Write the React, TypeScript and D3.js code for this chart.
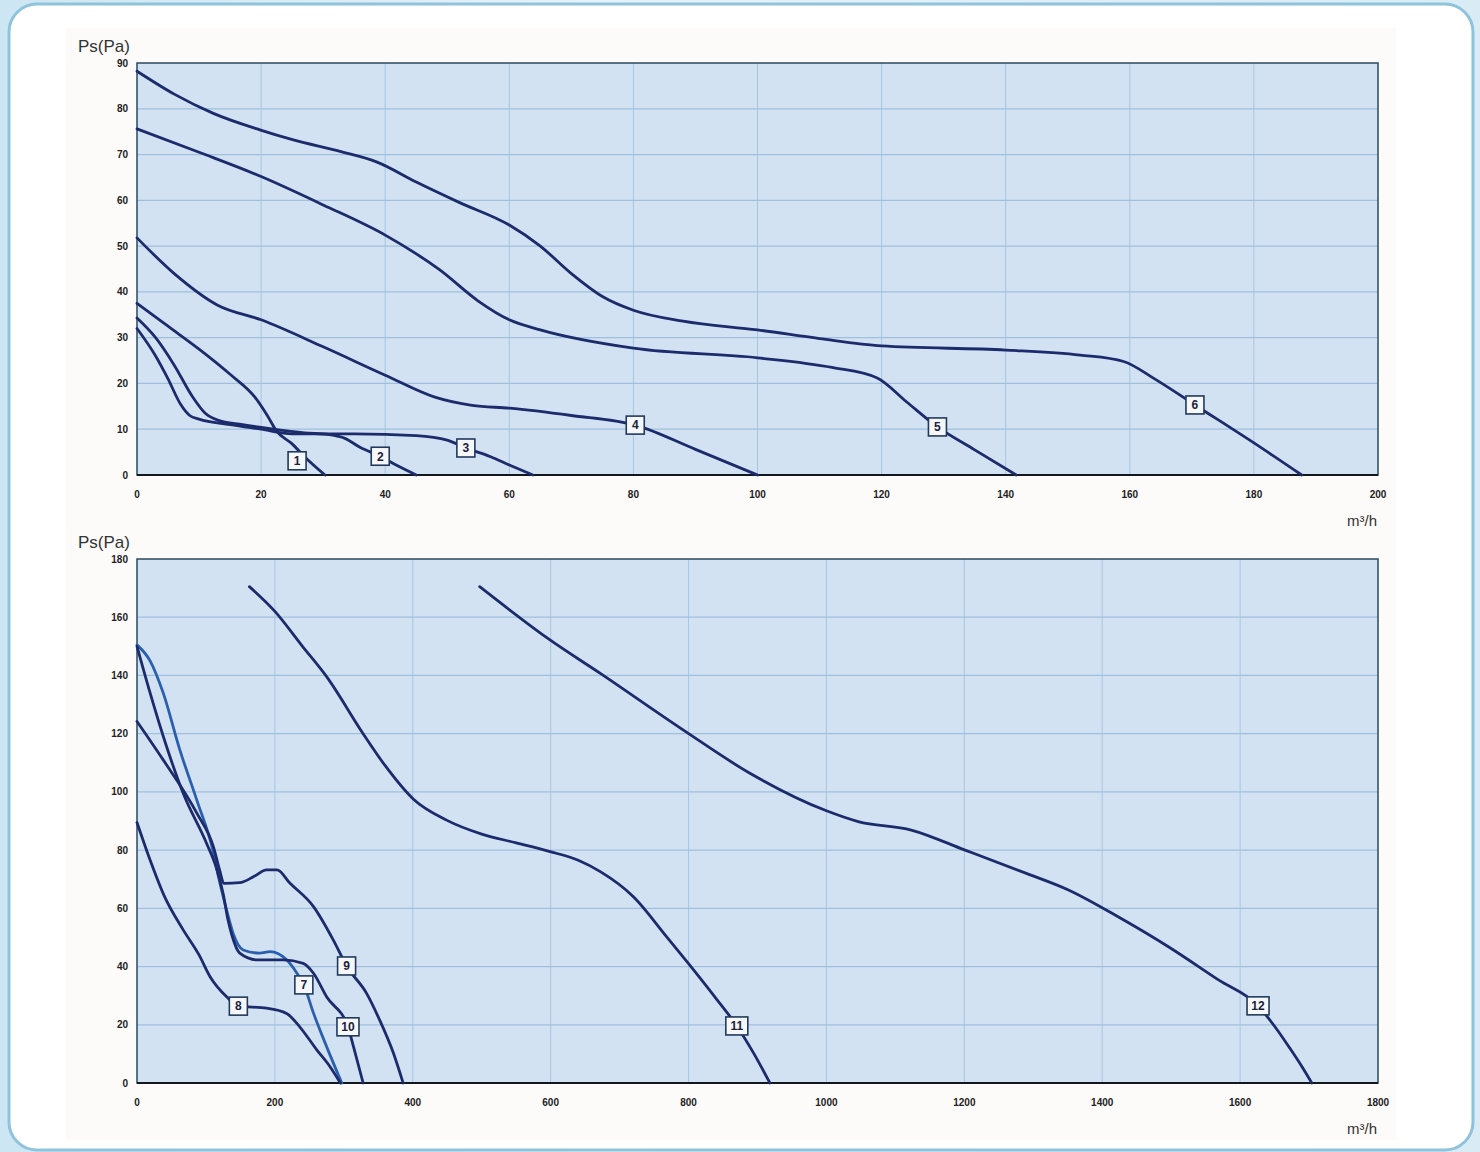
import React from 'react';
import * as d3 from 'd3';

type Pt = [number, number];

// upper panel: airflow (m³/h) vs static pressure (Pa)
const fan1: Pt[] = [[0, 37.5], [5, 32.5], [10, 27.5], [15, 22], [19, 17], [21, 13], [22.5, 9.6], [25, 6.8], [27, 4], [30.3, 0]];
const fan2: Pt[] = [[0, 34.3], [3, 30], [6, 24], [9, 17], [11, 13.5], [13, 12], [17, 11], [22, 10], [27, 9.2], [31, 8.8], [33.5, 8], [36, 6], [39.2, 4.1], [42, 2], [45, 0]];
const fan3: Pt[] = [[0, 32], [3, 26], [5, 21], [7, 15.5], [8.5, 13], [10, 12.2], [15, 11], [20, 10], [25, 9], [35, 9], [45, 8.6], [50, 7.6], [53, 5.9], [57, 4], [60, 2.2], [63.8, 0]];
const fan4: Pt[] = [[0, 51.8], [6, 44], [13, 37.1], [20, 33.9], [30, 28], [40, 21.8], [48, 17], [54, 15.2], [60, 14.6], [70, 13], [80.3, 10.9], [90, 5.6], [100, 0]];
const fan5: Pt[] = [[0, 75.6], [10, 70.5], [20, 65.2], [30, 59], [40, 52.4], [48.8, 44.8], [55, 38], [60, 33.9], [65, 31.7], [80, 27.7], [100, 25.6], [112, 23.5], [119.3, 21.2], [124, 16], [129, 10.5], [135, 5.5], [141.7, 0]];
const fan6: Pt[] = [[0, 88.2], [6, 83.2], [12.3, 79], [19.8, 75.4], [25.2, 73.2], [33, 70.6], [38.6, 68.4], [45, 64], [52, 59.5], [60, 54.6], [65, 50], [70, 44], [75, 39], [80, 36], [88, 33.6], [100, 31.7], [110, 29.8], [120, 28.2], [140, 27.3], [152, 26.2], [159, 24.8], [164, 21], [170.5, 15.3], [180, 7], [187.7, 0]];

// lower panel
const fan7: Pt[] = [[0, 150.5], [19, 145], [38, 134], [62, 114.5], [87, 97], [111, 79], [118, 71], [130, 59.4], [140, 51], [154, 45.7], [178, 44.6], [193, 45.1], [217, 42.3], [232, 37.7], [242, 33.7], [256, 24], [275, 12.5], [297, 0]];
const fan8: Pt[] = [[0, 89.5], [19, 76.6], [40, 64], [67, 52.6], [90, 44], [106, 36.5], [130, 29.6], [147, 26.4], [188, 25.7], [217, 23.9], [236, 19.3], [261, 11.3], [280, 5.6], [295, 0]];
const fan9: Pt[] = [[0, 124.2], [38, 111], [87, 92.6], [111, 81], [120, 73], [126, 68.6], [149, 68.8], [170, 71], [188, 73.2], [203, 73.2], [222, 68.6], [256, 60.6], [285, 49], [304, 40.2], [333, 30.8], [352, 21.6], [372, 10.2], [386, 0]];
const fan10: Pt[] = [[0, 150], [19, 134], [43, 115.5], [67, 99.5], [101, 82.3], [115, 74], [125, 65], [132, 56], [138, 50.5], [149, 44.6], [174, 42.3], [212, 42.3], [241, 41.1], [256, 37.7], [275, 29.6], [306, 19.3], [314, 12.5], [328, 0]];
const fan11: Pt[] = [[163, 170.5], [200, 162], [240, 150], [275, 139.6], [328, 120], [360, 109], [401, 97.5], [449, 90.3], [500, 85.5], [550, 82.5], [599, 79.5], [640, 76.5], [672, 72.6], [720, 64], [768, 50.3], [800, 41], [840, 29], [870, 19.6], [895, 10], [918, 0]];
const fan12: Pt[] = [[497, 170.5], [599, 152.2], [672, 140.7], [792, 121.3], [889, 106.4], [1000, 93.5], [1046, 89.8], [1123, 86.9], [1201, 80], [1290, 72], [1351, 66.3], [1423, 57.1], [1496, 46.8], [1568, 35.5], [1626, 26.5], [1650, 19.5], [1672, 12], [1690, 5.5], [1704, 0]];

// label box positions (x, y)
const topLabels: Pt[] = [[25.8, 3.1], [39.2, 4.1], [53, 5.9], [80.3, 10.9], [129, 10.5], [170.5, 15.3]];
const bottomLabels: Pt[] = [[242, 33.7], [147, 26.4], [304, 40.2], [306, 19.3], [870, 19.6], [1626, 26.5]];

const topXTicks = [0, 20, 40, 60, 80, 100, 120, 140, 160, 180, 200];
const topYTicks = [0, 10, 20, 30, 40, 50, 60, 70, 80, 90];
const bottomXTicks = [0, 200, 400, 600, 800, 1000, 1200, 1400, 1600, 1800];
const bottomYTicks = [0, 20, 40, 60, 80, 100, 120, 140, 160, 180];

const NAVY = '#1b2b6b';
const BLUE = '#2a5fae';
const FONT = '"Liberation Sans", Arial, sans-serif';

interface Curve {
  id: string;
  pts: Pt[];
  at: Pt;
  color: string;
}

const topCurves: Curve[] = [fan1, fan2, fan3, fan4, fan5, fan6].map((pts, i) => ({
  id: String(i + 1), pts, at: topLabels[i], color: NAVY,
}));
const bottomCurves: Curve[] = [fan7, fan8, fan9, fan10, fan11, fan12].map((pts, i) => ({
  id: String(i + 7), pts, at: bottomLabels[i], color: i === 0 ? BLUE : NAVY,
}));

function Panel({ top, bottom, xTicks, yTicks, curves }: {
  top: number; bottom: number; xTicks: number[]; yTicks: number[]; curves: Curve[];
}) {
  const left = 137, right = 1378;
  const x = d3.scaleLinear().domain([0, xTicks[xTicks.length - 1]]).range([left, right]);
  const y = d3.scaleLinear().domain([0, yTicks[yTicks.length - 1]]).range([bottom, top]);
  const line = d3.line<Pt>().x(d => x(d[0])).y(d => y(d[1])).curve(d3.curveMonotoneX);

  return (
    <g>
      <rect x={left} y={top} width={right - left} height={bottom - top} fill="#d3e2f3" />
      {xTicks.slice(1, -1).map(t => (
        <line key={'gx' + t} x1={x(t)} x2={x(t)} y1={top} y2={bottom} stroke="#a6c6e3" strokeWidth={1} />
      ))}
      {yTicks.slice(1, -1).map(t => (
        <line key={'gy' + t} x1={left} x2={right} y1={y(t)} y2={y(t)} stroke="#9fbfdc" strokeWidth={1.3} />
      ))}
      <rect x={left} y={top} width={right - left} height={bottom - top} fill="none" stroke="#2a4a5e" strokeWidth={1.5} />
      <line x1={left} x2={right} y1={bottom} y2={bottom} stroke="#121820" strokeWidth={2} />

      {curves.map(c => (
        <path key={'c' + c.id} d={line(c.pts) || ''} fill="none" stroke={c.color}
          strokeWidth={2.8} strokeLinejoin="round" strokeLinecap="round" />
      ))}
      {curves.map(c => {
        const w = c.id.length > 1 ? 22 : 18;
        return (
          <g key={'l' + c.id} transform={`translate(${x(c.at[0])},${y(c.at[1])})`}>
            <rect x={-w / 2} y={-9} width={w} height={18} fill="#f5f7fb" stroke="#213a5c" strokeWidth={1.6} />
            <text textAnchor="middle" dy="0.36em" fontSize={12} fontWeight="bold" fill="#1a2238" fontFamily={FONT}>{c.id}</text>
          </g>
        );
      })}

      {xTicks.map(t => (
        <text key={'tx' + t} x={x(t)} y={bottom + 23} textAnchor="middle" fontSize={10} fontWeight="bold"
          fill="#222" fontFamily={FONT}>{t}</text>
      ))}
      {yTicks.map(t => (
        <text key={'ty' + t} x={left - 9} y={y(t)} dy="0.35em" textAnchor="end" fontSize={10} fontWeight="bold"
          fill="#222" fontFamily={FONT}>{t}</text>
      ))}
      <text x={78} y={top - 11} fontSize={17} fill="#333" fontFamily={FONT}>Ps(Pa)</text>
      <text x={right - 1} y={bottom + 51} textAnchor="end" fontSize={15} fill="#333" fontFamily={FONT}>m³/h</text>
    </g>
  );
}

export default function App() {
  return (
    <svg width={1480} height={1152} style={{ position: 'absolute', left: 0, top: 0 }}>
      <defs>
        <linearGradient id="bg" x1="0" x2="1" y1="0" y2="0">
          <stop offset="0%" stopColor="#cde6f3" />
          <stop offset="40%" stopColor="#e6f2f9" />
          <stop offset="100%" stopColor="#d9ecf6" />
        </linearGradient>
      </defs>
      <rect width={1480} height={1152} fill="url(#bg)" />
      <rect x={9} y={4} width={1464} height={1146} rx={28} fill="#ffffff" stroke="#8fc3dc" strokeWidth={3} />
      <rect x={66} y={28} width={1330} height={1112} fill="#fcfbf9" />
      <Panel top={63} bottom={475} xTicks={topXTicks} yTicks={topYTicks} curves={topCurves} />
      <Panel top={559} bottom={1083} xTicks={bottomXTicks} yTicks={bottomYTicks} curves={bottomCurves} />
    </svg>
  );
}
